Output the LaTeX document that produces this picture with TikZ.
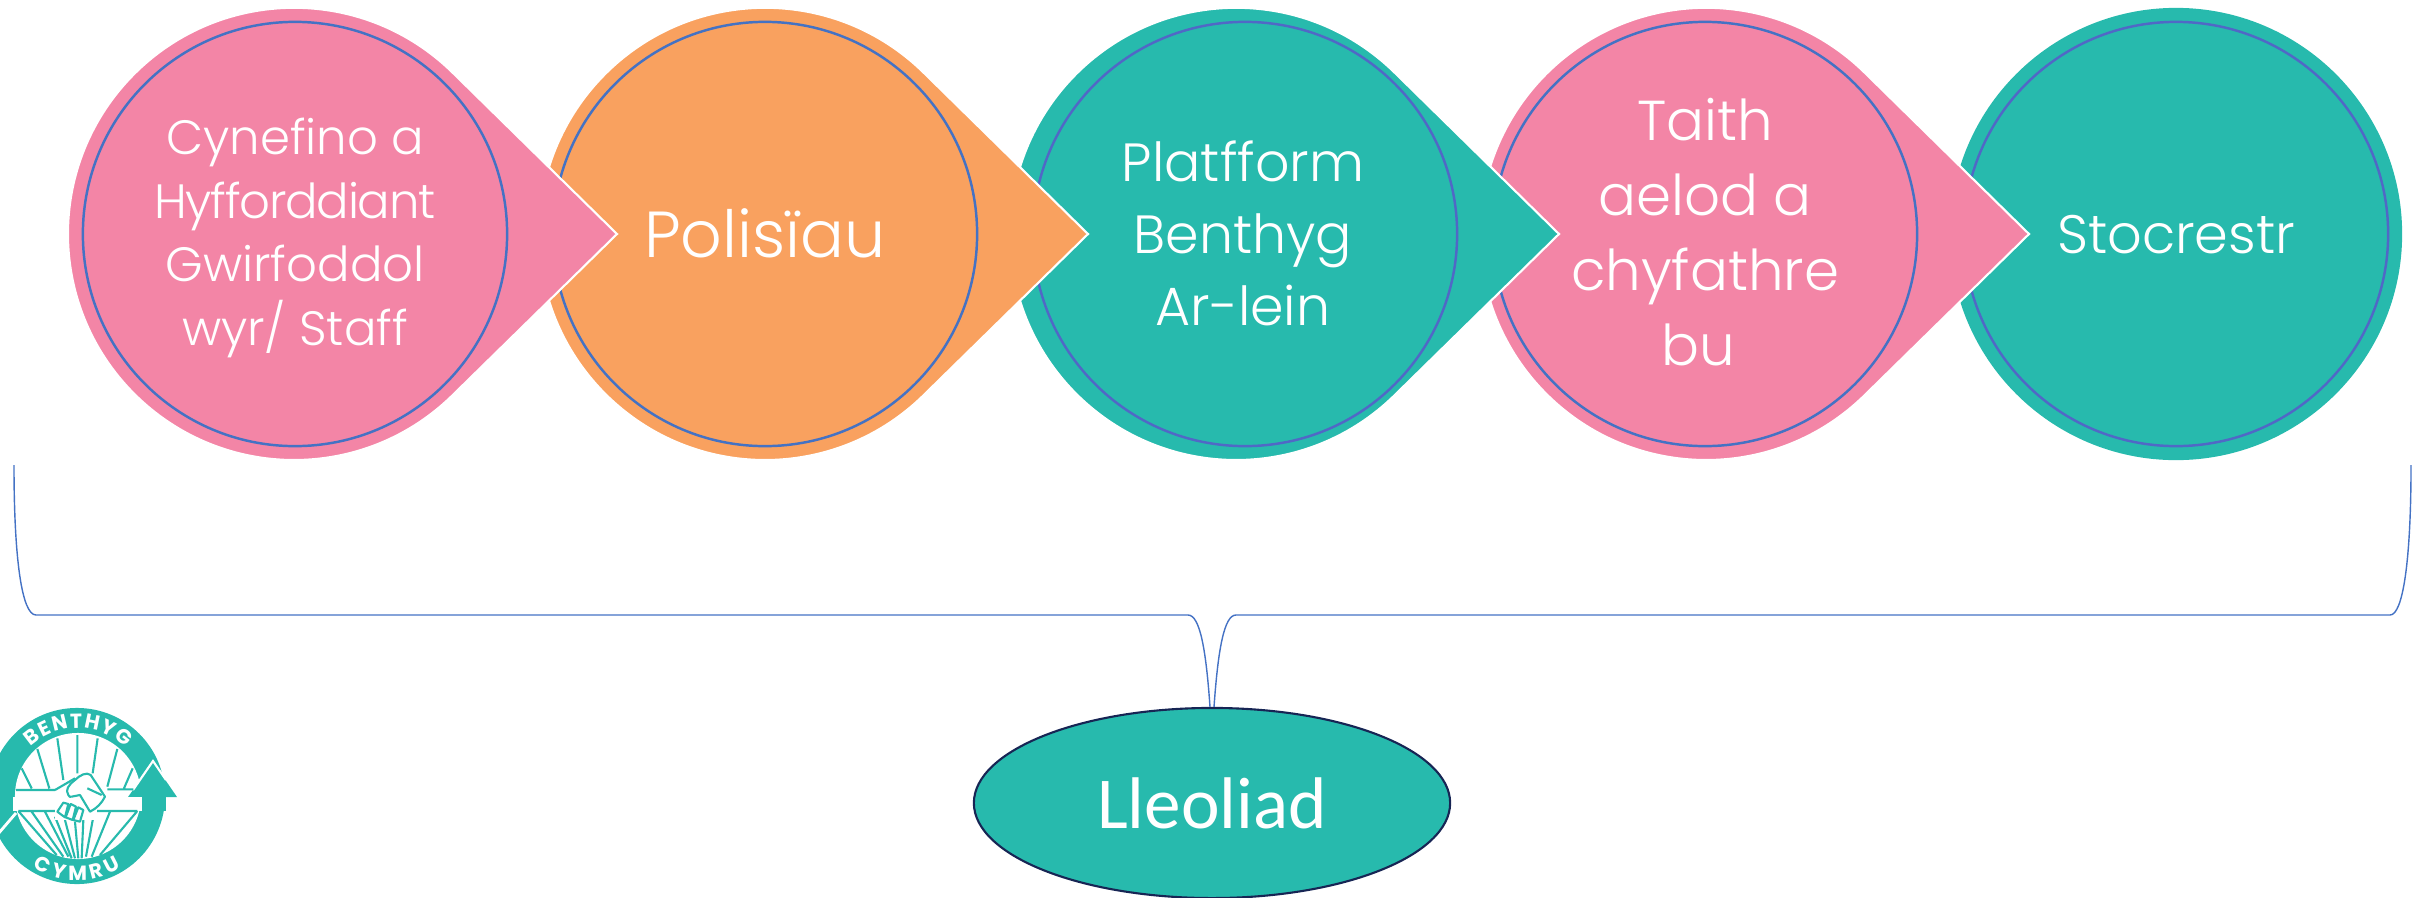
\documentclass[tikz,border=0pt]{standalone}
\usepackage{fontspec}
\setmainfont{Poppins Light}
\newfontfamily\lleofont{Carlito}
\newfontfamily\logofont{Poppins}
\usetikzlibrary{shapes.geometric,decorations.text}
\definecolor{pinkfill}{HTML}{F385A6}
\definecolor{orangefill}{HTML}{F9A15F}
\definecolor{tealfill}{HTML}{27BAAD}
\definecolor{ringblue}{HTML}{4472C4}
\definecolor{ringviolet}{HTML}{5068C6}
\definecolor{navyline}{HTML}{172554}
\tikzset{
  petal/.style={draw=white,line width=0.6pt,line join=miter},
  ring/.style={circle,draw=ringblue,line width=0.7pt,minimum size=4.24cm,inner sep=0pt},
  steptext/.style={text=white,align=center,inner sep=0pt},
  brace/.style={draw=ringblue,line width=0.4pt},
  logoline/.style={draw=tealfill,line width=0.6pt},
  logogap/.style={draw=white,line width=0.8pt}
}
\newcommand{\teardrop}[2]{\draw[petal,fill=#2] (#1,234) ++(323,0) -- ++(-163,-160)
  arc[start angle=45,end angle=315,radius=2.26cm] -- cycle;}
\begin{document}
\begin{tikzpicture}[x=0.01cm,y=-0.01cm]
  \useasboundingbox (0,0) rectangle (2428,897);
  % steps, right to left so that each tip lies over the next circle
  \fill[tealfill] (2176,234) circle[radius=2.26cm];
  \node[ring,draw=ringviolet] (stocrestrring) at (2176,234) {};
  \node[steptext,font=\fontsize{15.4}{20}\selectfont] (stocrestr) at (2176,235) {Stocrestr};
  \teardrop{1706}{pinkfill}
  \node[ring] (taithring) at (1705,234) {};
  \node[steptext,font=\fontsize{16}{21.4}\selectfont] (taith) at (1705,232) {Taith\\aelod a\\chyfathre\\bu\hspace*{4pt}};
  \teardrop{1236}{tealfill}
  \node[ring,draw=ringviolet] (platfformring) at (1245,234) {};
  \node[steptext,font=\fontsize{15.3}{20.5}\selectfont] (platfform) at (1243,233) {Platfform\\Benthyg\\Ar-lein};
  \teardrop{765}{orangefill}
  \node[ring] (polisiauring) at (765,234) {};
  \node[steptext,font=\fontsize{18.5}{24}\selectfont] (polisiau) at (765,233) {Polisïau};
  \teardrop{294}{pinkfill}
  \node[ring] (cynefinoring) at (295,234) {};
  \node[steptext,font=\fontsize{13.7}{18.07}\selectfont] (cynefino) at (295,238) {Cynefino a\\{\addfontfeature{LetterSpace=-2.6}Hyfforddiant}\\Gwirfoddol\\wyr/ Staff};
  % location
  \node[ellipse,draw=navyline,line width=0.6pt,fill=tealfill,text=white,minimum width=4.76cm,
    minimum height=1.9cm,inner sep=0pt,font=\lleofont\fontsize{20.8}{25}\selectfont] (lleoliad) at (1212,803) {Lleoliad};
  \coordinate (braceleft) at (14,465);
  \coordinate (braceright) at (2411,465);
  \coordinate (bracetl) at (36,615);
  \coordinate (bracetr) at (2390,615);
  \coordinate (bracecl) at (1188,615);
  \coordinate (bracecr) at (1236,615);
  \draw[brace] (braceleft) .. controls (14,560) and (22,615) .. (bracetl) -- (bracecl)
    .. controls (1200,615) and (1206,650) .. ([xshift=-0.02cm]lleoliad.north);
  \draw[brace] (braceright) .. controls (2411,560) and (2403,615) .. (bracetr) -- (bracecr)
    .. controls (1224,615) and (1218,650) .. ([xshift=0.02cm]lleoliad.north);
  % logo
  \begin{scope}
    \clip (0,680) rectangle (220,897);
    \fill[tealfill] (77,796) circle[radius=0.88cm];
    \fill[white] (78,796) circle[radius=0.63cm];
    \draw[logogap] (-2,834) -- (16,813);
    \fill[tealfill] (128,797) -- (153,762) -- (177,797) -- cycle;
    \draw[draw=white,line width=0.6pt,line join=miter] (133,790) -- (153,761) -- (166,780);
    \begin{scope}[shift={(0,680)},scale=1/3]
      \fill[white] (38,350) rectangle (425,392);
      \fill[tealfill] (425,350) -- (497,350) -- (497,392) -- (425,392) -- cycle;
      \draw[logoline] (65,265) -- (95,325) (112,207) -- (148,325) (172,175) -- (190,300)
        (232,165) -- (232,280) (293,175) -- (278,280) (352,207) -- (322,320) (398,265) -- (372,325)
        (48,330) -- (165,330) (322,328) -- (400,328);
      \draw[logoline] (55,393) -- (170,393) (290,393) -- (412,393)
        (55,393) -- (170,525) (95,395) -- (190,530) (135,395) -- (205,530) (165,410) -- (215,535)
        (195,420) -- (225,535) (225,425) -- (235,535) (250,420) -- (245,535) (280,410) -- (258,530)
        (330,395) -- (275,530) (412,393) -- (300,525);
      \fill[white] (165,380) rectangle (290,420);
      \draw[logoline,line join=round,fill=white] (205,345) .. controls (195,330) and (205,315) .. (225,300)
        .. controls (240,285) and (260,275) .. (272,285) -- (315,350) .. controls (305,370) and (290,385) .. (270,395)
        -- (240,345) -- (215,350) .. controls (210,352) and (207,350) .. (205,345) -- cycle;
      \draw[logoline] (165,330) -- (225,295) (262,325) -- (305,345);
      \draw[logoline,fill=white,line join=round] (172,395) -- (190,368) -- (205,372) -- (195,412) -- cycle
        (197,412) -- (212,372) -- (228,380) -- (218,420) -- cycle (220,420) -- (235,382) -- (250,390) -- (240,425) -- cycle;
    \end{scope}
    \begin{scope}[shift={(77,796)},x=0.01cm,y=0.01cm]
      \path[decorate,decoration={text along path,text align=fit to path,
        text={|\logofont\bfseries\fontsize{5.8}{6}\selectfont\color{white}|BENTHYG}}]
        (133:68) arc[start angle=133,end angle=45,radius=0.68cm];
      \path[decorate,decoration={text along path,text align=fit to path,
        text={|\logofont\bfseries\fontsize{5.8}{6}\selectfont\color{white}|CYMRU}}]
        (238:84) arc[start angle=238,end angle=302,radius=0.84cm];
    \end{scope}
  \end{scope}
\end{tikzpicture}
\end{document}
